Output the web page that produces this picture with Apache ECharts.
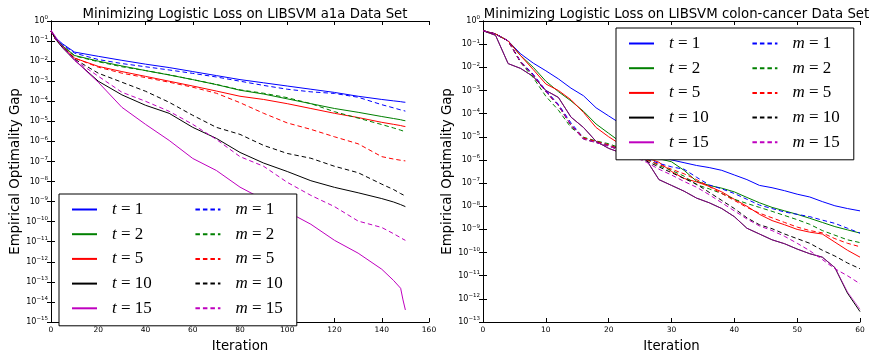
<!DOCTYPE html>
<html>
<head>
<meta charset="utf-8">
<script src="https://cdn.jsdelivr.net/npm/echarts@6/dist/echarts.min.js"></script>
<style>
  html, body { margin: 0; padding: 0; background: #fff; }
  #chart { width: 870px; height: 358px; }
</style>
</head>
<body>
<div id="chart"></div>
<script>
// Values are log10 of the empirical optimality gap.
const a1aIters = [0, 2, 5, 10, 20, 30, 40, 50, 60, 70, 80, 90, 100, 110, 120, 130, 140, 145, 148, 149, 150];
const a1aT1 = [-0.5, -0.85, -1.15, -1.55, -1.76, -1.96, -2.15, -2.32, -2.52, -2.72, -2.92, -3.08, -3.24, -3.40, -3.56, -3.75, -3.91, -3.98, -4.02, -4.04, -4.05];
const a1aT2 = [-0.5, -0.9, -1.25, -1.72, -2.0, -2.24, -2.47, -2.69, -2.92, -3.17, -3.45, -3.64, -3.88, -4.12, -4.36, -4.55, -4.76, -4.86, -4.92, -4.95, -4.97];
const a1aT5 = [-0.5, -0.92, -1.28, -1.85, -2.26, -2.52, -2.76, -3.0, -3.24, -3.49, -3.75, -3.91, -4.12, -4.36, -4.6, -4.81, -5.05, -5.15, -5.21, -5.24, -5.26];
const a1aT10 = [-0.5, -0.92, -1.35, -1.95, -3.0, -3.68, -4.2, -4.6, -5.3, -5.85, -6.55, -7.08, -7.5, -7.96, -8.29, -8.56, -8.85, -9.02, -9.15, -9.2, -9.25];
const a1aT15 = [-0.45, -0.8, -1.3, -1.95, -3.05, -4.3, -5.15, -5.95, -6.85, -7.45, -8.28, -8.9, -9.5, -10.13, -10.93, -11.57, -12.37, -12.93, -13.32, -13.9, -14.4];
const a1aM1 = [-0.5, -0.88, -1.2, -1.6, -1.92, -2.12, -2.28, -2.44, -2.61, -2.79, -3.0, -3.21, -3.40, -3.53, -3.61, -3.80, -4.17, -4.33, -4.43, -4.46, -4.49];
const a1aM2 = [-0.5, -0.9, -1.25, -1.74, -2.03, -2.28, -2.47, -2.68, -2.92, -3.16, -3.43, -3.6, -3.82, -4.12, -4.52, -4.84, -5.16, -5.33, -5.44, -5.48, -5.51];
const a1aM5 = [-0.5, -0.92, -1.28, -1.85, -2.3, -2.6, -2.82, -3.05, -3.3, -3.6, -4.07, -4.6, -5.08, -5.4, -5.77, -6.12, -6.76, -6.88, -6.94, -6.96, -6.97];
const a1aM10 = [-0.5, -0.92, -1.3, -1.9, -2.6, -3.05, -3.5, -4.05, -4.7, -5.3, -5.65, -6.2, -6.6, -6.84, -7.24, -7.56, -8.13, -8.4, -8.6, -8.66, -8.72];
const a1aM15 = [-0.5, -0.92, -1.3, -1.95, -2.75, -3.55, -4.0, -4.5, -5.15, -5.9, -6.76, -7.24, -8.04, -8.69, -9.25, -9.97, -10.29, -10.6, -10.8, -10.87, -10.93];

const colonIters = [0, 2, 4, 6, 8, 10, 12, 14, 16, 18, 20, 22, 24, 26, 28, 30, 32, 34, 36, 38, 40, 42, 44, 46, 48, 50, 52, 54, 56, 58, 60];
const colonT1 = [-0.42, -0.56, -0.86, -1.42, -1.82, -2.15, -2.5, -2.9, -3.23, -3.75, -4.1, -4.45, -5.1, -5.68, -5.82, -6.0, -6.12, -6.24, -6.33, -6.45, -6.65, -6.85, -7.1, -7.2, -7.33, -7.48, -7.6, -7.8, -7.98, -8.1, -8.2];
const colonT2 = [-0.42, -0.56, -0.86, -1.5, -2.0, -2.6, -3.05, -3.45, -3.9, -4.45, -4.85, -5.25, -5.65, -5.82, -5.95, -6.08, -6.45, -6.92, -7.1, -7.22, -7.38, -7.62, -7.85, -8.05, -8.2, -8.35, -8.52, -8.7, -8.88, -9.02, -9.16];
const colonT5 = [-0.42, -0.56, -0.86, -1.5, -2.1, -2.72, -3.0, -3.4, -3.95, -4.6, -5.0, -5.35, -5.6, -5.9, -6.1, -6.5, -6.8, -6.95, -7.14, -7.38, -7.7, -8.0, -8.35, -8.62, -8.8, -9.0, -9.12, -9.2, -9.55, -9.9, -10.2];
const colonT10 = [-0.42, -0.62, -1.84, -2.05, -2.4, -3.0, -3.3, -4.15, -4.6, -5.2, -5.5, -5.7, -5.85, -6.0, -6.85, -7.1, -7.35, -7.65, -7.85, -8.1, -8.45, -8.95, -9.2, -9.45, -9.62, -9.85, -10.05, -10.2, -10.65, -11.75, -12.55];
const colonT15 = [-0.42, -0.62, -1.84, -2.05, -2.4, -3.0, -3.3, -4.15, -4.6, -5.2, -5.5, -5.7, -5.85, -6.0, -6.85, -7.1, -7.35, -7.65, -7.85, -8.1, -8.45, -8.95, -9.2, -9.45, -9.62, -9.85, -10.05, -10.2, -10.65, -11.7, -12.45];
const colonM1 = [-0.42, -0.56, -0.86, -1.75, -2.3, -3.0, -3.6, -4.4, -5.05, -5.2, -5.35, -5.55, -5.75, -5.95, -6.15, -6.3, -6.4, -6.75, -7.08, -7.25, -7.45, -7.7, -7.95, -8.1, -8.25, -8.35, -8.45, -8.6, -8.74, -8.95, -9.16];
const colonM2 = [-0.42, -0.56, -0.86, -1.8, -2.45, -3.25, -3.85, -4.6, -5.02, -5.18, -5.3, -5.5, -5.7, -5.95, -6.25, -6.45, -6.7, -7.07, -7.25, -7.45, -7.7, -7.88, -8.05, -8.22, -8.4, -8.58, -8.78, -9.05, -9.25, -9.45, -9.57];
const colonM5 = [-0.42, -0.56, -0.86, -1.78, -2.35, -3.05, -3.65, -4.5, -5.05, -5.2, -5.35, -5.55, -5.75, -6.0, -6.2, -6.4, -6.6, -6.85, -7.15, -7.45, -7.75, -8.05, -8.3, -8.5, -8.7, -8.9, -9.05, -9.15, -9.4, -9.6, -9.75];
const colonM10 = [-0.42, -0.56, -0.86, -1.78, -2.35, -3.05, -3.65, -4.5, -5.1, -5.25, -5.4, -5.6, -5.8, -6.05, -6.3, -6.55, -6.8, -7.05, -7.4, -7.75, -8.1, -8.5, -8.8, -8.97, -9.2, -9.4, -9.6, -9.9, -10.15, -10.45, -10.7];
const colonM15 = [-0.42, -0.56, -0.86, -1.78, -2.35, -3.05, -3.65, -4.5, -5.1, -5.25, -5.4, -5.6, -5.85, -6.1, -6.4, -6.65, -6.93, -7.18, -7.5, -7.85, -8.2, -8.55, -8.85, -9.05, -9.3, -9.6, -9.92, -10.3, -10.7, -11.0, -11.35];

const seriesNames = ["t = 1", "t = 2", "t = 5", "t = 10", "t = 15", "m = 1", "m = 2", "m = 5", "m = 10", "m = 15"];
const seriesColors = ["#0000ff", "#008000", "#ff0000", "#000000", "#bf00bf", "#0000ff", "#008000", "#ff0000", "#000000", "#bf00bf"];
const a1aLogs = [a1aT1, a1aT2, a1aT5, a1aT10, a1aT15, a1aM1, a1aM2, a1aM5, a1aM10, a1aM15];
const colonLogs = [colonT1, colonT2, colonT5, colonT10, colonT15, colonM1, colonM2, colonM5, colonM10, colonM15];

const FONT = "DejaVu Sans";
const MATH = "Liberation Serif";

const chart = echarts.init(document.getElementById("chart"), null, { renderer: "canvas" });

function points(iters, logs) {
  return iters.map((x, i) => [x, Math.pow(10, logs[i])]);
}

function makeSeries(iters, logs, gridIdx) {
  return logs.map((arr, k) => ({
    name: seriesNames[k],
    type: "line",
    xAxisIndex: gridIdx * 2,
    yAxisIndex: gridIdx * 2,
    data: points(iters, arr),
    symbol: "none",
    showSymbol: false,
    silent: true,
    lineStyle: {
      width: 1,
      color: seriesColors[k],
      type: k >= 5 ? [4.5, 3] : "solid",
      // t=10 and t=15 overlap on colon-cancer; blend like the original
      opacity: gridIdx === 1 && k === 4 ? 0.65 : 1,
    },
    itemStyle: { color: seriesColors[k] },
  }));
}

const axisLine = { show: true, lineStyle: { color: "#000", width: 1 } };
const axisTick = { show: true, inside: true, length: 4, lineStyle: { color: "#000" } };

function xAxes(gridIdx, max, interval) {
  const base = {
    gridIndex: gridIdx,
    type: "value",
    min: 0,
    max: max,
    interval: interval,
    axisLine,
    axisTick,
    splitLine: { show: false },
  };
  return [
    {
      ...base,
      position: "bottom",
      name: "Iteration",
      nameLocation: "middle",
      nameGap: 18,
      nameTextStyle: { fontFamily: FONT, fontSize: 13.3, color: "#000" },
      axisLabel: { fontFamily: FONT, fontSize: 7.5, color: "#000", margin: 4 },
    },
    { ...base, position: "top", axisLabel: { show: false } },
  ];
}

function yAxes(gridIdx, minExp) {
  const base = {
    gridIndex: gridIdx,
    type: "log",
    logBase: 10,
    min: Math.pow(10, minExp),
    max: 1,
    interval: 1,
    splitNumber: -minExp,
    axisLine,
    axisTick,
    splitLine: { show: false },
    minorTick: { show: false },
  };
  return [
    {
      ...base,
      position: "left",
      name: "Empirical Optimality Gap",
      nameLocation: "middle",
      nameGap: 22,
      nameTextStyle: { fontFamily: FONT, fontSize: 13.3, color: "#000" },
      axisLabel: {
        margin: 3,
        formatter: (v) => {
          const e = Math.round(Math.log10(v));
          return "{b|10}{e|" + (e < 0 ? "\u2212" + -e : e) + "}";
        },
        rich: {
          b: { fontFamily: FONT, fontSize: 8, color: "#000", lineHeight: 12 },
          e: { fontFamily: FONT, fontSize: 5.5, color: "#000", lineHeight: 6, verticalAlign: "top" },
        },
      },
    },
    { ...base, position: "right", axisLabel: { show: false } },
  ];
}

function legendFormatter(name) {
  const letter = name.charAt(0);
  const rest = name.slice(1);
  return "{it|" + letter + "}" + (letter === "t" ? "{tw|" + rest + "}" : "{tx|" + rest + "}");
}

function makeLegend(left, top) {
  return {
    data: seriesNames,
    orient: "vertical",
    left: left,
    top: top,
    height: 120,
    itemWidth: 25,
    itemHeight: 14,
    itemGap: 7.7,
    padding: [7, 14, 9, 12],
    backgroundColor: "#fff",
    borderColor: "#000",
    borderWidth: 1,
    borderRadius: 0,
    selectedMode: false,
    itemStyle: { opacity: 0 },
    formatter: legendFormatter,
    textStyle: {
      fontFamily: MATH,
      fontSize: 17,
      lineHeight: 14,
      rich: {
        it: { fontFamily: MATH, fontStyle: "italic", fontSize: 17, color: "#000", padding: [0, 0, 0, 10], lineHeight: 14 },
        // the t column is widened so the m column starts where it does in the original
        tw: { fontFamily: MATH, fontSize: 17, color: "#000", width: 70, lineHeight: 14 },
        tx: { fontFamily: MATH, fontSize: 17, color: "#000", lineHeight: 14 },
      },
    },
  };
}

const option = {
  animation: false,
  backgroundColor: "#fff",
  title: [
    {
      text: "Minimizing Logistic Loss on LIBSVM a1a Data Set",
      left: 240,
      top: 3,
      textAlign: "center",
      textStyle: { fontFamily: FONT, fontSize: 13.3, fontWeight: "normal", color: "#000" },
    },
    {
      text: "Minimizing Logistic Loss on LIBSVM colon-cancer Data Set",
      left: 671.5,
      top: 3,
      textAlign: "center",
      textStyle: { fontFamily: FONT, fontSize: 13.3, fontWeight: "normal", color: "#000" },
    },
  ],
  legend: [makeLegend(59, 194), makeLegend(616, 28)],
  grid: [
    { left: 51, top: 21, width: 378, height: 312, containLabel: false },
    { left: 483, top: 21, width: 377, height: 311, containLabel: false },
  ],
  xAxis: [...xAxes(0, 160, 20), ...xAxes(1, 60, 10)],
  yAxis: [...yAxes(0, -15), ...yAxes(1, -13)],
  series: [...makeSeries(a1aIters, a1aLogs, 0), ...makeSeries(colonIters, colonLogs, 1)],
};

chart.setOption(option);
</script>
</body>
</html>
